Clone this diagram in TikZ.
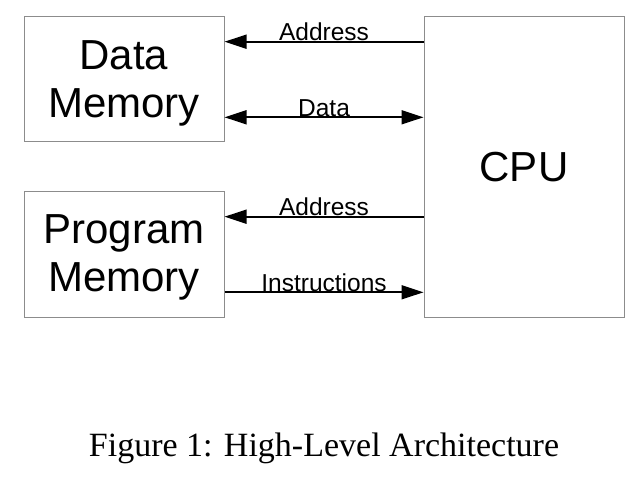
\documentclass[tikz,border=0pt]{standalone}
\usepackage{fontspec}
\setmainfont{Liberation Sans}
\newfontfamily\capfont{Liberation Serif}
\usetikzlibrary{calc,arrows.meta}

\begin{document}
\begin{tikzpicture}[x=1pt, y=-1pt,
    every node/.style={inner sep=0pt},
    unit/.style={draw=black!45, line width=1pt, minimum width=200pt, align=center,
        font=\fontsize{42}{48}\selectfont},
    bus/.style={line width=1.7pt, -{Triangle[length=22pt,width=14pt]}},
    lbl/.style={anchor=base, yshift=1pt, font=\fontsize{24.5}{28}\selectfont}]
    \useasboundingbox (0,0) rectangle (644,486);

    \node[unit, minimum height=125pt] (dmem) at (124, 79.5) {};
    \node[unit, minimum height=125pt] (pmem) at (124, 254.5) {};
    \node[unit, minimum height=300pt] (cpu) at (524, 167) {CPU};
    % box texts sit a little below centre
    \node[align=center, font=\fontsize{42}{48}\selectfont] (dtxt) at ([yshift=-4pt]dmem.center) {Data\\Memory};
    \node[align=center, font=\fontsize{42}{48}\selectfont] (ptxt) at ([yshift=-3pt]pmem.center) {Program\\Memory};

    \coordinate (da) at ($(dmem.north east)!.2!(dmem.south east)$);
    \coordinate (dd) at ($(dmem.north east)!.8!(dmem.south east)$);
    \coordinate (pa) at ($(pmem.north east)!.2!(pmem.south east)$);
    \coordinate (pi) at ($(pmem.north east)!.8!(pmem.south east)$);

    \draw[bus] (cpu.west |- da) -- node[lbl] {Address} (da);
    \draw[bus, {Triangle[length=22pt,width=14pt]}-{Triangle[length=22pt,width=14pt]}]
        (dd) -- node[lbl] {Data} (cpu.west |- dd);
    \draw[bus] (cpu.west |- pa) -- node[lbl] {Address} (pa);
    \draw[bus] (pi) -- node[lbl] {Instructions} (cpu.west |- pi);

    \node[anchor=base, font=\capfont\fontsize{34}{40}\selectfont] (cap) at (324, 456)
        {Figure 1: High-Level Architecture};
\end{tikzpicture}
\end{document}
